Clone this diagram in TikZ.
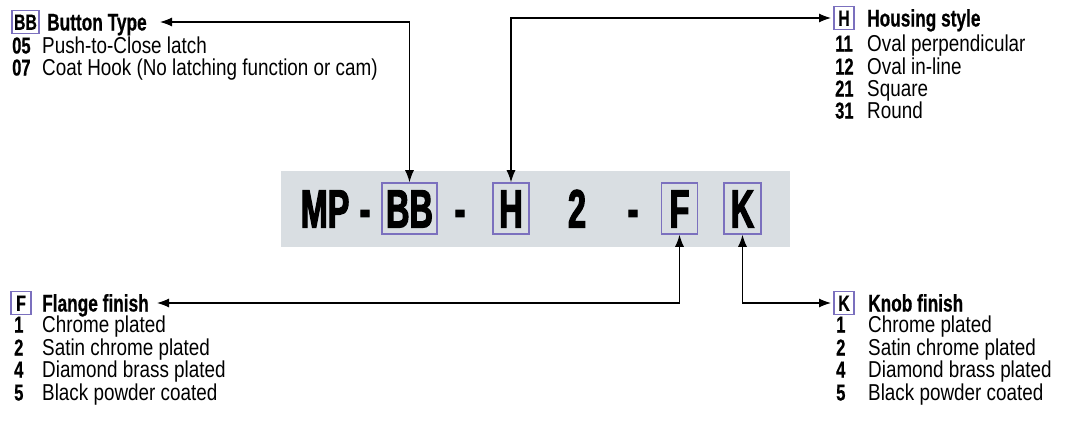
\documentclass[tikz,border=0pt]{standalone}
\usepackage{fontspec}
\setmainfont{Liberation Sans}
\newfontfamily\rfont[FakeStretch=0.82]{Liberation Sans}
\newfontfamily\bfont[FakeStretch=0.72,FakeBold=0.6]{Liberation Sans Bold}
\newfontfamily\gfont[FakeStretch=0.6,FakeBold=2.2]{Liberation Sans Bold}
\usetikzlibrary{arrows.meta}
\definecolor{boxc}{HTML}{7B70BE}
\definecolor{band}{HTML}{D9DEE2}
\tikzset{
 reg/.style={font=\rfont\fontsize{23}{23}\selectfont, inner sep=0pt, anchor=base west},
 num/.style={font=\bfont\fontsize{23}{23}\selectfont, inner sep=0pt, anchor=base west},
 ttl/.style={font=\bfont\fontsize{24}{24}\selectfont, inner sep=0pt, anchor=base west},
 sbox/.style={draw=boxc, line width=1.3pt, font=\bfont\fontsize{22}{22}\selectfont, inner sep=0pt, minimum height=23pt, text height=15.5pt, text depth=0pt},
 big/.style={font=\gfont\fontsize{54}{54}\selectfont, inner sep=0pt, text height=38pt, text depth=0pt},
 bbox/.style={big, draw=boxc, line width=1.6pt, minimum height=51pt},
 conn/.style={line width=1.1pt, {Latex[length=12pt,width=9pt]}-{Latex[length=12pt,width=9pt]}},
}
\begin{document}
\begin{tikzpicture}[x=1pt,y=-1pt]
\useasboundingbox (0,0) rectangle (1070,434);
% band
\node[fill=band, inner sep=0pt, minimum width=509pt, minimum height=76pt] (band) at (535.5,209) {};
% code
\node[big] (mp) at (325,208.5) {MP};
\node[big] (d1) at (365,208.5) {-};
\node[bbox, minimum width=55pt] (BB) at (409.5,208.5) {BB};
\node[big] (d2) at (460,208.5) {-};
\node[bbox, minimum width=36pt] (H) at (511,208.5) {H};
\node[big] (two) at (577,208.5) {2};
\node[big] (d3) at (633,208.5) {-};
\node[bbox, minimum width=36pt] (F) at (679.5,208.5) {F};
\node[bbox, minimum width=37pt] (K) at (742.5,208.5) {K};
% BB legend
\node[sbox, minimum width=27pt] (bbs) at (25.5,22) {BB};
\node[ttl] (bbt) at (47,30.5) {Button Type};
\node[num] (bb1n) at (12,53.5) {05};
\node[reg] (bb1t) at (42,53.5) {Push-to-Close latch};
\node[num] (bb2n) at (12,75.5) {07};
\node[reg] (bb2t) at (42,75.5) {Coat Hook (No latching function or cam)};
\coordinate (bbend) at (160,22);
\draw[conn] (bbend) -| (BB.north);
% H legend
\node[sbox, minimum width=20pt] (hs) at (844,18) {H};
\node[ttl] (ht) at (867,26.5) {Housing style};
\node[num] (h1n) at (835,51.5) {11};
\node[reg] (h1t) at (867,51.5) {Oval perpendicular};
\node[num] (h2n) at (835,74.5) {12};
\node[reg] (h2t) at (867,74.5) {Oval in-line};
\node[num] (h3n) at (835,96.5) {21};
\node[reg] (h3t) at (867,96.5) {Square};
\node[num] (h4n) at (835,118.5) {31};
\node[reg] (h4t) at (867,118.5) {Round};
\coordinate (hend) at (831,18);
\draw[conn] (H.north) |- (hend);
% F legend
\node[sbox, minimum width=20pt] (fs) at (21,303) {F};
\node[ttl] (ft) at (42,311.5) {Flange finish};
\node[num] (f1n) at (14,332.5) {1};
\node[reg] (f1t) at (42,332.5) {Chrome plated};
\node[num] (f2n) at (14,355.5) {2};
\node[reg] (f2t) at (42,355.5) {Satin chrome plated};
\node[num] (f3n) at (14,377.5) {4};
\node[reg] (f3t) at (42,377.5) {Diamond brass plated};
\node[num] (f4n) at (14,400.5) {5};
\node[reg] (f4t) at (42,400.5) {Black powder coated};
\coordinate (fend) at (157,303);
\draw[conn] (F.south) |- (fend);
% K legend
\node[sbox, minimum width=20pt] (ks) at (844,303) {K};
\node[ttl] (kt) at (868,311.5) {Knob finish};
\node[num] (k1n) at (836,332.5) {1};
\node[reg] (k1t) at (868,332.5) {Chrome plated};
\node[num] (k2n) at (836,355.5) {2};
\node[reg] (k2t) at (868,355.5) {Satin chrome plated};
\node[num] (k3n) at (836,377.5) {4};
\node[reg] (k3t) at (868,377.5) {Diamond brass plated};
\node[num] (k4n) at (836,400.5) {5};
\node[reg] (k4t) at (868,400.5) {Black powder coated};
\coordinate (kend) at (831,303);
\draw[conn] (K.south) |- (kend);
\end{tikzpicture}
\end{document}
